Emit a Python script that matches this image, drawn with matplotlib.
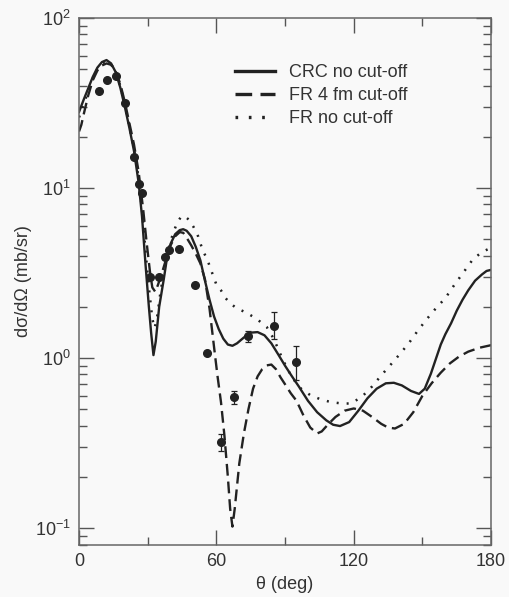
import numpy as np
import matplotlib.pyplot as plt
from matplotlib.ticker import LogLocator, MultipleLocator, NullFormatter

plt.rcParams['font.family'] = ['Liberation Sans', 'DejaVu Sans']
plt.rcParams['mathtext.default'] = 'regular'

# CRC no cut-off
theta_crc = [0, 2, 4, 6, 8, 10, 12, 14, 16, 18, 20, 22, 24, 26, 27.5, 29, 30.5, 31.5,
             32.5, 33.5, 35, 37, 38.5, 40, 42, 44, 45.5, 47, 49, 51, 53, 55, 57, 59,
             61, 63, 65, 67, 69, 72, 75, 78, 81, 84, 87, 90, 93, 96, 100, 104, 108,
             111, 114, 118, 122, 126, 130, 134, 137.5, 141, 145, 148.5, 151, 153.7,
             156, 158, 160, 162.5, 165, 167.5, 170, 173, 176, 178, 180]
xs_crc = [28, 33, 38.5, 45, 51, 55, 56.5, 54, 48, 39, 30, 22.5, 16.5, 10.8, 6.8, 3.6,
          2.0, 1.4, 1.04, 1.25, 2.0, 2.9, 3.95, 4.7, 5.35, 5.65, 5.72, 5.6, 5.2, 4.5,
          3.75, 2.85, 2.2, 1.75, 1.48, 1.3, 1.2, 1.18, 1.22, 1.32, 1.41, 1.42, 1.36,
          1.22, 1.05, 0.9, 0.78, 0.68, 0.56, 0.48, 0.43, 0.405, 0.398, 0.42, 0.49,
          0.58, 0.66, 0.71, 0.715, 0.69, 0.64, 0.615, 0.66, 0.81, 1.0, 1.2, 1.38,
          1.6, 1.9, 2.2, 2.5, 2.85, 3.1, 3.25, 3.3]

# FR 4 fm cut-off
theta_fr4 = [0, 1, 2, 4, 6, 8, 10, 12, 14, 16, 18, 20, 22, 24, 26, 28, 29.5, 31, 32,
             33.3, 34.5, 36, 38, 40, 42, 44, 45.5, 47, 49, 51, 53, 55, 57, 59, 60.5,
             62, 63.5, 65, 66, 67, 68, 70, 72, 74, 76, 78, 80, 82, 84, 86, 88, 90,
             92.5, 95, 98, 101, 104, 106, 109, 112, 116, 120, 124, 128, 132, 135,
             138, 142, 146, 150, 154, 158, 162, 166, 170, 175, 180]
xs_fr4 = [21.5, 23.5, 27, 35, 43, 49, 52.5, 54, 53, 48.5, 41, 32, 24, 18, 12.5, 7.5,
          4.8, 3.2, 2.6, 2.45, 2.7, 3.1, 3.8, 4.6, 5.2, 5.5, 5.45, 5.1, 4.6, 4.1, 3.6,
          2.9, 1.95, 1.15, 0.78, 0.55, 0.35, 0.2, 0.13, 0.102, 0.13, 0.24, 0.36, 0.5,
          0.66, 0.78, 0.86, 0.905, 0.915, 0.86, 0.77, 0.7, 0.62, 0.56, 0.46, 0.39,
          0.36, 0.37, 0.41, 0.45, 0.49, 0.505, 0.49, 0.45, 0.41, 0.39, 0.385, 0.41,
          0.48, 0.6, 0.71, 0.82, 0.93, 1.02, 1.09, 1.15, 1.19]

# FR no cut-off
theta_fr = [0, 2, 4, 6, 8, 10, 12, 14, 16, 18, 20, 22, 24, 26, 27.5, 29, 30.5, 32, 33,
            34, 35.5, 37, 39, 41, 43, 44.5, 46, 48, 50, 52, 54, 56, 58, 60, 62, 64,
            66, 68, 70, 73, 76, 79, 82, 85, 88, 91, 94, 97, 101, 105, 110, 115, 119,
            124, 128, 132, 136, 140, 144, 148, 152, 156, 160, 164, 168, 172, 176, 180]
xs_fr = [26, 31, 37, 44, 50, 54, 55.5, 53.5, 48, 40, 31, 23, 17, 11.5, 7.5, 4.3, 2.6,
         1.7, 1.5, 1.7, 2.4, 3.2, 4.3, 5.4, 6.3, 6.75, 6.85, 6.5, 5.9, 5.2, 4.3, 3.8,
         3.2, 2.7, 2.5, 2.25, 2.1, 2.0, 1.93, 1.85, 1.75, 1.64, 1.52, 1.3, 1.05, 0.86,
         0.74, 0.66, 0.605, 0.575, 0.55, 0.54, 0.54, 0.6, 0.68, 0.79, 0.91, 1.05, 1.22,
         1.45, 1.7, 1.97, 2.25, 2.7, 3.2, 3.8, 4.2, 4.45]

# measured points
theta_exp = [8.5, 12.1, 16.2, 19.9, 23.8, 26.0, 27.5, 30.8, 35.0, 37.7, 39.1, 43.8,
             50.5, 55.9, 62.1, 67.6, 73.9, 85.1, 94.9]
xs_exp = [37.3, 43, 45.8, 31.5, 15.3, 10.5, 9.3, 3.0, 3.0, 3.9, 4.3, 4.4, 2.7, 1.07,
          0.32, 0.59, 1.35, 1.54, 0.95]
err_lo = [0, 0, 0, 0, 0, 0, 0, 0, 0, 0, 0, 0, 0, 0, 0.035, 0.05, 0.1, 0.25, 0.21]
err_hi = [0, 0, 0, 0, 0, 0, 0, 0, 0, 0, 0, 0, 0, 0, 0.035, 0.05, 0.1, 0.33, 0.23]

ink = '#222222'
fig = plt.figure(figsize=(5.10, 5.97), dpi=100, facecolor='#f9f9f9')
ax = fig.add_axes([0.155, 0.087, 0.808, 0.883], facecolor='#f9f9f9')

ax.plot(theta_crc, xs_crc, '-', color=ink, lw=1.7, label='CRC no cut-off')
ax.plot(theta_fr4, xs_fr4, '--', color=ink, lw=1.7, dashes=(5, 2.5),
        label='FR 4 fm cut-off')
ax.plot(theta_fr, xs_fr, ':', color=ink, lw=1.8, dashes=(0.8, 3.2),
        label='FR no cut-off')
ax.errorbar(theta_exp, xs_exp, yerr=[err_lo, err_hi], fmt='o', color=ink, ms=5.5,
            elinewidth=0.9, capsize=2.5, capthick=0.9)

ax.set_yscale('log')
ax.set_xlim(0, 180)
ax.set_ylim(10 ** -1.1, 100)
ax.xaxis.set_major_locator(MultipleLocator(60))
ax.xaxis.set_minor_locator(MultipleLocator(30))
ax.yaxis.set_major_locator(LogLocator(base=10))
ax.yaxis.set_minor_locator(LogLocator(base=10, subs=np.arange(2, 10)))
ax.yaxis.set_minor_formatter(NullFormatter())

ax.tick_params(which='both', direction='in', top=True, right=True, color='#555555',
               labelcolor='#333333', labelsize=13, width=1)
ax.tick_params(which='major', length=10.5, pad=6)
ax.tick_params(which='minor', length=5.5)
for s in ax.spines.values():
    s.set_color('#666666')
    s.set_linewidth(1.1)

ax.set_xlabel('θ (deg)', fontsize=13, color='#333333', labelpad=4)
ax.set_ylabel('dσ/dΩ (mb/sr)', fontsize=13, color='#333333', labelpad=2)

leg = ax.legend(loc='upper left', bbox_to_anchor=(0.378, 0.912), frameon=False,
                fontsize=13, handlelength=2.2, handletextpad=0.8, labelspacing=0.32,
                borderpad=0, borderaxespad=0)
for t in leg.get_texts():
    t.set_color('#333333')
for h in leg.get_lines():
    h.set_linewidth(2.4)

fig.savefig('out.png', dpi=100, facecolor=fig.get_facecolor())
